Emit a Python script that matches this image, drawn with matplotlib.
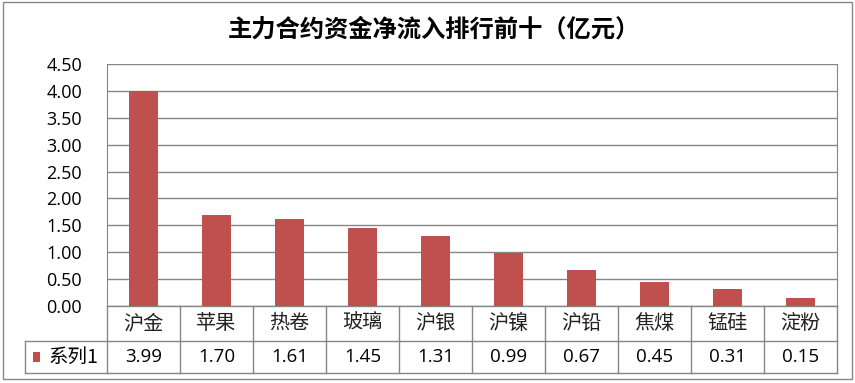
import matplotlib.pyplot as plt
from matplotlib.patches import Rectangle
from matplotlib.lines import Line2D
import matplotlib.transforms as mtransforms

plt.rcParams['font.family'] = ['Noto Sans CJK SC', 'DejaVu Sans']

# data
categories = ['沪金', '苹果', '热卷', '玻璃', '沪银', '沪镍', '沪铅', '焦煤', '锰硅', '淀粉']
values = [3.99, 1.70, 1.61, 1.45, 1.31, 0.99, 0.67, 0.45, 0.31, 0.15]
series_name = '系列1'
title = '主力合约资金净流入排行前十（亿元）'
yticks = [0, 0.5, 1.0, 1.5, 2.0, 2.5, 3.0, 3.5, 4.0, 4.5]

W, H = 855, 383
bar_color = '#C0504D'
line_color = '#868686'
num_font = ['Open Sans', 'DejaVu Sans']

fig = plt.figure(figsize=(W / 100, H / 100), dpi=100)
fig.patch.set_facecolor('white')

# chart border
fig.add_artist(Rectangle((3 / W, 1 - 379 / H), 849 / W, 377 / H, transform=fig.transFigure,
                         fill=False, edgecolor=line_color, linewidth=1))

ax = fig.add_axes([107 / W, 1 - 306 / H, 730 / W, 242 / H])
x = list(range(len(categories)))
ax.bar(x, values, width=0.41, color=bar_color, zorder=3)
ax.set_xlim(-0.5, len(categories) - 0.5)
ax.set_ylim(0, 4.5)
ax.set_yticks(yticks)
ax.set_yticklabels([f'{v:.2f}' for v in yticks], fontsize=13, family=num_font)
ax.tick_params(axis='y', length=0, pad=18)
ax.set_xticks([])
ax.grid(axis='y', color=line_color, linewidth=1, zorder=0)
for s in ['top', 'bottom']:
    ax.spines[s].set_visible(False)
for s in ['left', 'right']:
    ax.spines[s].set_color(line_color)

fig.text(434 / W, 1 - 30 / H, title, ha='center', va='center', fontsize=17.5, fontweight='bold')

# data table below the plot
trans = mtransforms.blended_transform_factory(ax.transData, ax.transAxes)
r1 = -35 / 242
r2 = -67 / 242
left = -0.5 - 82 / 73
right = len(categories) - 0.5
kw = dict(transform=trans, color=line_color, linewidth=1, clip_on=False)
ax.add_line(Line2D([-0.5, right], [0, 0], **kw))
ax.add_line(Line2D([left, right], [r1, r1], **kw))
ax.add_line(Line2D([left, right], [r2, r2], **kw))
ax.add_line(Line2D([left, left], [r1, r2], **kw))
for i in range(len(categories) + 1):
    ax.add_line(Line2D([i - 0.5, i - 0.5], [0, r2], **kw))

for i, (c, v) in enumerate(zip(categories, values)):
    ax.text(i, r1 / 2, c, transform=trans, ha='center', va='center', fontsize=14.5, color='#222222')
    ax.text(i, (r1 + r2) / 2, f'{v:.2f}', transform=trans, ha='center', va='center',
            fontsize=13.5, family=num_font)

fig.add_artist(Rectangle((33 / W, 1 - 362 / H), 7 / W, 10 / H, transform=fig.transFigure,
                         facecolor=bar_color, edgecolor='none'))
fig.text(49 / W, 1 - 357 / H, series_name, ha='left', va='center', fontsize=14)

fig.savefig('out.png', dpi=100)
